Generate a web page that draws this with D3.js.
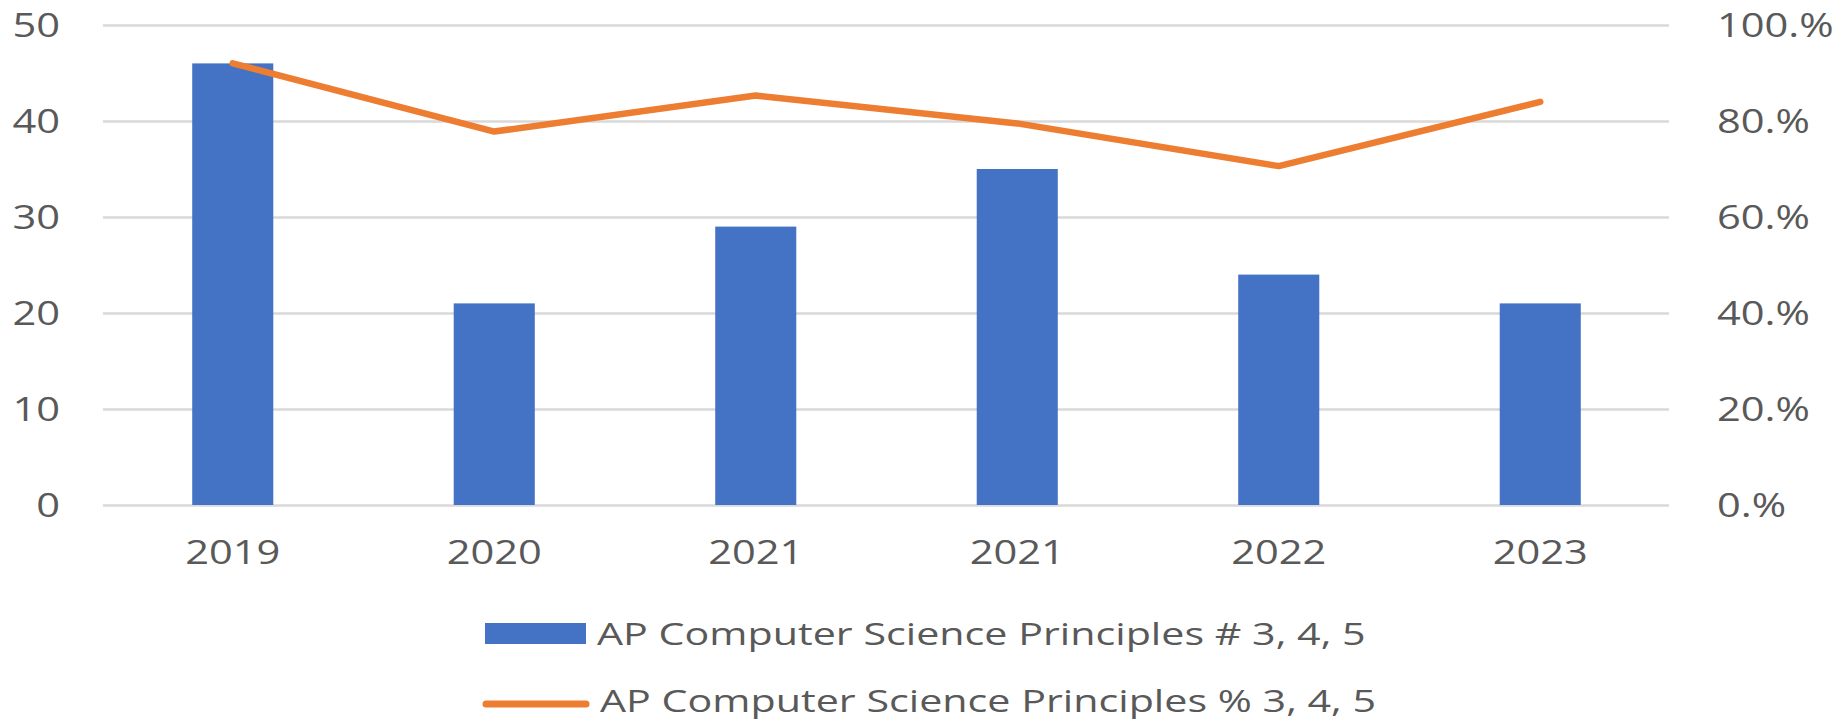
<!DOCTYPE html>
<html>
<head>
<meta charset="utf-8">
<script src="https://cdn.jsdelivr.net/npm/d3@7"></script>
<style>
  body { margin: 0; background: #fff; }
  text { font-family: "Open Sans", sans-serif; fill: #595959; }
</style>
</head>
<body>
<main></main>
<script>
// data
var years = ["2019", "2020", "2021", "2021", "2022", "2023"];
var passCount = [46, 21, 29, 35, 24, 21];
var passPct = [92, 77.8, 85.3, 79.5, 70.6, 84];
var leftTicks = [0, 10, 20, 30, 40, 50];
var rightTicks = [0, 20, 40, 60, 80, 100];
var legendLabels = ["AP Computer Science Principles # 3, 4, 5",
                    "AP Computer Science Principles % 3, 4, 5"];

var SX = 1.3;   // source picture is stretched sideways
var LSX = 1.33; // legend text stretch
var blue = "#4472C4", orange = "#ED7D31", grid = "#d9d9d9";

var svg = d3.select("main")
  .append("svg")
    .attr("width", 1837)
    .attr("height", 720);

var x = d3.scaleBand()
  .domain(d3.range(years.length))
  .range([102, 1671])
  .paddingInner(0.69)
  .paddingOuter(0.345);

var yLeft = d3.scaleLinear().domain([0, 50]).range([505, 25]);
var yRight = d3.scaleLinear().domain([0, 100]).range([505, 25]);

function stretch(sel) {
  sel.each(function() {
    var t = d3.select(this);
    var xx = +t.attr("x") || 0;
    t.attr("x", xx / SX).attr("transform", "scale(" + SX + ",1)");
  });
}

// left axis with gridlines
var gl = svg.append("g")
  .attr("transform", "translate(103,0)")
  .call(d3.axisLeft(yLeft).tickValues(leftTicks).tickSize(-1566).tickPadding(43));
gl.select(".domain").remove();
gl.selectAll("line").attr("stroke", grid).attr("stroke-width", 2.5);
gl.selectAll("text").attr("font-size", 32).attr("dy", "0.36em").attr("fill", "#595959").call(stretch);

// right axis
var gr = svg.append("g")
  .attr("transform", "translate(1669,0)")
  .call(d3.axisRight(yRight).tickValues(rightTicks).tickSize(0).tickPadding(48)
    .tickFormat(function(d) { return d + ".%"; }));
gr.select(".domain").remove();
gr.selectAll("text").attr("font-size", 32).attr("dy", "0.36em").attr("fill", "#595959").call(stretch);

// bars
svg.append("g").selectAll("rect")
  .data(passCount)
  .enter().append("rect")
    .attr("x", function(d, i) { return x(i); })
    .attr("y", function(d) { return yLeft(d); })
    .attr("width", x.bandwidth())
    .attr("height", function(d) { return yLeft(0) - yLeft(d); })
    .attr("fill", blue);

// line
var line = d3.line()
  .x(function(d, i) { return x(i) + x.bandwidth() / 2; })
  .y(function(d) { return yRight(d); });

svg.append("path")
  .datum(passPct)
  .attr("d", line)
  .attr("fill", "none")
  .attr("stroke", orange)
  .attr("stroke-width", 6.5)
  .attr("stroke-linecap", "round")
  .attr("stroke-linejoin", "round");

// x axis labels
var gx = svg.append("g")
  .attr("transform", "translate(0,505)")
  .call(d3.axisBottom(x).tickSize(0).tickPadding(36)
    .tickFormat(function(i) { return years[i]; }));
gx.select(".domain").remove();
gx.selectAll("text").attr("font-size", 32).attr("fill", "#595959").call(stretch);

// legend
svg.append("rect")
  .attr("x", 485).attr("y", 623)
  .attr("width", 101).attr("height", 21)
  .attr("fill", blue);
svg.append("line")
  .attr("x1", 486).attr("x2", 586)
  .attr("y1", 704).attr("y2", 704)
  .attr("stroke", orange)
  .attr("stroke-width", 7)
  .attr("stroke-linecap", "round");

svg.selectAll(".legtext")
  .data(legendLabels)
  .enter().append("text")
    .attr("class", "legtext")
    .attr("x", function(d, i) { return (i ? 600 : 597) / LSX; })
    .attr("y", function(d, i) { return i ? 712 : 645; })
    .attr("font-size", 31)
    .attr("transform", "scale(" + LSX + ",1)")
    .text(function(d) { return d; });
</script>
</body>
</html>
